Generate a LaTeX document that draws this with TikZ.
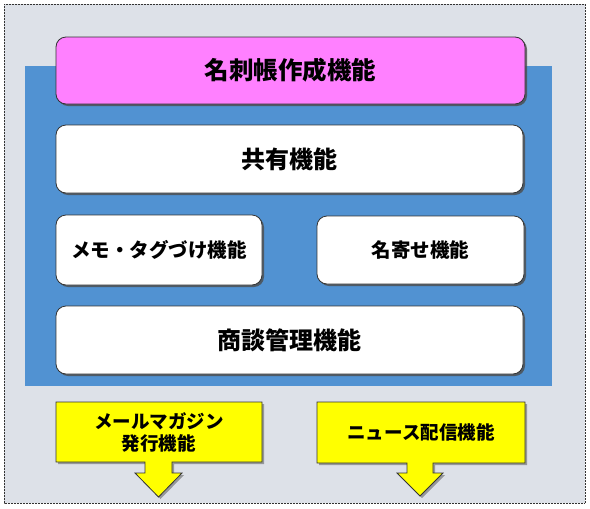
\documentclass[tikz,border=0pt]{standalone}
\usepackage{fontspec}
\newfontfamily\jp{Noto Sans CJK JP}
\usetikzlibrary{shadows}
\definecolor{bggray}{HTML}{DDE1E8}
\definecolor{panelblue}{HTML}{5192D2}
\definecolor{pinkfill}{HTML}{FF80FF}
\definecolor{yellowfill}{HTML}{FFFF00}
\definecolor{edge}{HTML}{333333}
\tikzset{
  fbox/.style={draw=edge, line width=0.8pt, rounded corners=10pt, fill=white,
    drop shadow={shadow xshift=2pt, shadow yshift=-2pt, fill=black!70, opacity=0.8},
    font=\jp\bfseries, inner sep=0pt},
  callout/.style={draw=edge, line width=0.8pt, fill=yellowfill,
    drop shadow={shadow xshift=2pt, shadow yshift=-2pt, fill=black!60, opacity=0.6}},
  ctext/.style={font=\jp\bfseries\fontsize{18.5}{21}\selectfont, align=center, inner sep=0pt}
}
\begin{document}
\begin{tikzpicture}[x=1pt,y=-1pt]
\useasboundingbox (0,0) rectangle (590,509);
% outer frame
\draw[draw=edge, line width=0.8pt, fill=bggray, dashed, dash pattern=on 1pt off 0.5pt] (4,4) rectangle (585,503);
% blue panel
\fill[panelblue] (25,66) rectangle (552,386);
% function boxes
\node[fbox, fill=pinkfill, minimum width=469pt, minimum height=67pt,
  font=\jp\bfseries\fontsize{24.5}{28}\selectfont] (meishi) at (290.5,70.5) {名刺帳作成機能};
\node[fbox, minimum width=467pt, minimum height=68pt,
  font=\jp\bfseries\fontsize{24}{28}\selectfont] (kyoyu) at (289.5,159) {共有機能};
\node[fbox, minimum width=206pt, minimum height=70pt,
  font=\jp\bfseries\fontsize{19.5}{23}\selectfont] (memo) at (159,250) {メモ・タグづけ機能};
\node[fbox, minimum width=207pt, minimum height=68pt,
  font=\jp\bfseries\fontsize{19.5}{23}\selectfont] (nayose) at (420.5,250) {名寄せ機能};
\node[fbox, minimum width=467pt, minimum height=68pt,
  font=\jp\bfseries\fontsize{24}{28}\selectfont] (shodan) at (289.5,340) {商談管理機能};
% callouts
\draw[callout] (56,402) -- (262,402) -- (262,462) -- (172,462) -- (172,473) -- (182,473)
  -- (158.5,497) -- (135,473) -- (145,473) -- (145,462) -- (56,462) -- cycle;
\node[ctext] (mail) at (159,432) {メールマガジン\\[1pt]発行機能};
\draw[callout] (317,402) -- (525,402) -- (525,463) -- (433,463) -- (433,473) -- (443,473)
  -- (420,496) -- (397,473) -- (407,473) -- (407,463) -- (317,463) -- cycle;
\node[ctext] (news) at (421,432) {ニュース配信機能};
\end{tikzpicture}
\end{document}
